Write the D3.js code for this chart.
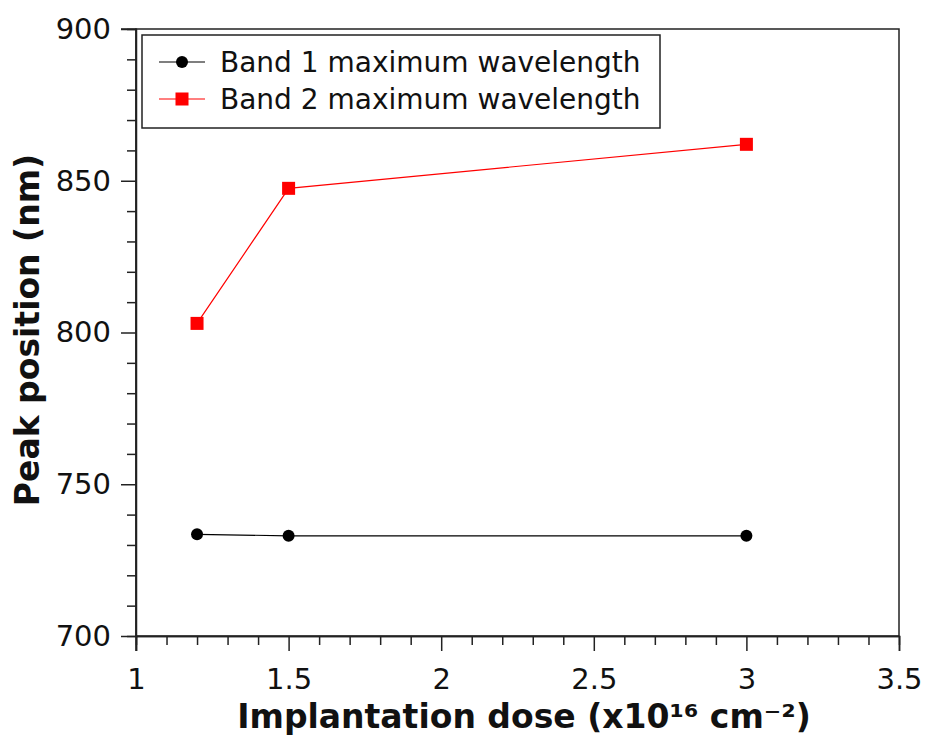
<!DOCTYPE html>
<html><head><meta charset="utf-8">
<script src="https://cdn.jsdelivr.net/npm/d3@7"></script>
<style>body{margin:0;background:#fff}svg{display:block}text{font-family:"DejaVu Sans",sans-serif}</style>
</head><body><svg id="c" width="925" height="737"></svg>
<script>
const doses = [1.2, 1.5, 3.0];
const band1 = [733.5, 733.0, 733.0];
const band2 = [803.0, 847.5, 862.0];
const seriesNames = ["Band 1 maximum wavelength", "Band 2 maximum wavelength"];
const xTicks = [1, 1.5, 2, 2.5, 3, 3.5];
const yTicks = [700, 750, 800, 850, 900];

const svg = d3.select("#c");
const L = 136, R = 899, T = 29, B = 636;
const x = d3.scaleLinear().domain([1, 3.5]).range([L, R]);
const y = d3.scaleLinear().domain([700, 900]).range([B, T]);
const axCol = "#222";

// frame
svg.append("rect").attr("x", L).attr("y", T).attr("width", R - L).attr("height", B - T)
  .attr("fill", "none").attr("stroke", axCol).attr("stroke-width", 1.5);

// minor ticks
const xMinor = d3.range(1, 3.5001, 0.1).filter(v => Math.abs(v * 2 - Math.round(v * 2)) > 1e-6);
const yMinor = d3.range(700, 900.1, 10).filter(v => v % 50 !== 0);
const gx = svg.append("g").attr("transform", `translate(0,${B})`);
gx.call(d3.axisBottom(x).tickValues(xMinor).tickSize(9).tickFormat(""));
const gx2 = svg.append("g").attr("transform", `translate(0,${B})`);
gx2.call(d3.axisBottom(x).tickValues(xTicks).tickSize(15).tickPadding(17).tickFormat(d3.format("")));
const gy = svg.append("g").attr("transform", `translate(${L},0)`);
gy.call(d3.axisLeft(y).tickValues(yMinor).tickSize(9).tickFormat(""));
const gy2 = svg.append("g").attr("transform", `translate(${L},0)`);
gy2.call(d3.axisLeft(y).tickValues(yTicks).tickSize(15).tickPadding(10));
[gx, gx2, gy, gy2].forEach(g => {
  g.select(".domain").attr("stroke", axCol).attr("stroke-width", 1.5);
  g.selectAll(".tick line").attr("stroke", axCol).attr("stroke-width", 1.5);
  g.selectAll("text").attr("font-size", 29).attr("fill", "#111").attr("font-family", "DejaVu Sans");
});
gy2.selectAll(".domain").attr("d", `M0,${B+15}V${T}H-15`);

// lines
const line = d3.line().x((d, i) => x(doses[i])).y(d => y(d));
svg.append("path").datum(band1).attr("d", line).attr("fill", "none").attr("stroke", "#000").attr("stroke-width", 1.2);
svg.append("path").datum(band2).attr("d", line).attr("fill", "none").attr("stroke", "#ff0000").attr("stroke-width", 1.2);
svg.selectAll("circle.b1").data(band1).enter().append("circle")
  .attr("cx", (d, i) => x(doses[i])).attr("cy", d => y(d)).attr("r", 6).attr("fill", "#000");
svg.selectAll("rect.b2").data(band2).enter().append("rect")
  .attr("x", (d, i) => x(doses[i]) - 6.5).attr("y", d => y(d) - 6.5).attr("width", 13).attr("height", 13).attr("fill", "#ff0000");

// legend
const lg = svg.append("g");
lg.append("rect").attr("x", 142).attr("y", 35).attr("width", 518).attr("height", 93)
  .attr("fill", "#fff").attr("stroke", axCol).attr("stroke-width", 1.5);
seriesNames.forEach((name, i) => {
  const cy = 62 + i * 37;
  const col = i === 0 ? "#000" : "#ff0000";
  lg.append("line").attr("x1", 159).attr("x2", 205).attr("y1", cy).attr("y2", cy).attr("stroke", col).attr("stroke-width", 1.2);
  if (i === 0) lg.append("circle").attr("cx", 182).attr("cy", cy).attr("r", 6).attr("fill", col);
  else lg.append("rect").attr("x", 175.5).attr("y", cy - 6.5).attr("width", 13).attr("height", 13).attr("fill", col);
  lg.append("text").attr("x", 220).attr("y", cy).attr("dy", "0.35em").attr("font-size", 28).attr("fill", "#111").text(name);
});

// axis titles
svg.append("text").attr("x", 524).attr("y", 728).attr("text-anchor", "middle")
  .attr("font-size", 33).attr("font-weight", "bold").attr("fill", "#111")
  .text("Implantation dose (x10¹⁶ cm⁻²)");
svg.append("text").attr("transform", "translate(39,330) rotate(-90)").attr("text-anchor", "middle")
  .attr("font-size", 33).attr("font-weight", "bold").attr("fill", "#111")
  .text("Peak position (nm)");
</script></body></html>
